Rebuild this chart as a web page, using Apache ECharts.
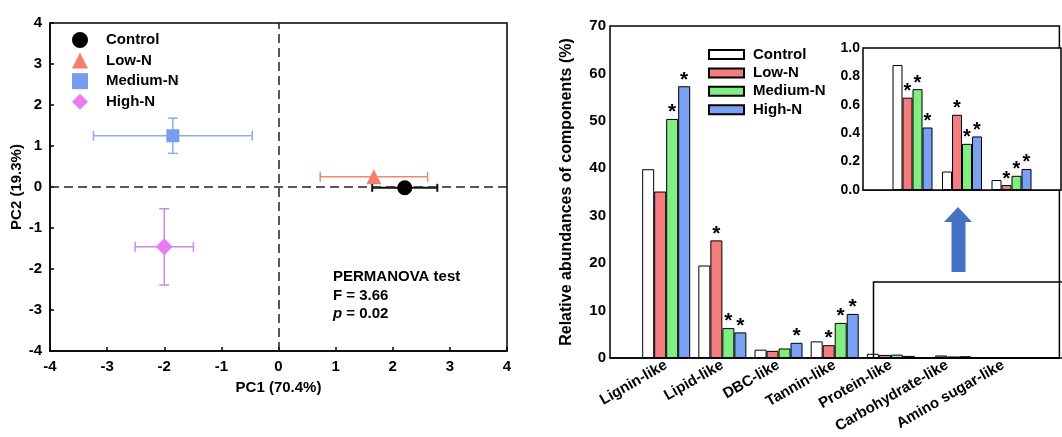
<!DOCTYPE html>
<html>
<head>
<meta charset="utf-8">
<script src="https://cdn.jsdelivr.net/npm/echarts@6/dist/echarts.min.js"></script>
<style>
html, body { margin: 0; padding: 0; background: #fff; }
#main { width: 1062px; height: 437px; }
</style>
</head>
<body>
<div id="main"></div>
<script>
// ---- left panel: PCA scores ----
var groups = ['Control', 'Low-N', 'Medium-N', 'High-N'];
var pc1 = [2.21, 1.67, -1.85, -2.0];
var pc2 = [-0.02, 0.25, 1.25, -1.46];
var pc1Err = [0.57, 0.94, 1.39, 0.51];
var pc2Err = [0, 0, 0.43, 0.93];

// ---- right panel: relative abundances (%) ----
var components = ['Lignin-like', 'Lipid-like', 'DBC-like', 'Tannin-like', 'Protein-like', 'Carbohydrate-like', 'Amino sugar-like'];
var ctrlVals = [39.8, 19.5, 1.75, 3.5, 0.88, 0.13, 0.07];
var lowVals = [35.1, 24.8, 1.5, 2.7, 0.65, 0.53, 0.035];
var medVals = [50.4, 6.3, 2.0, 7.4, 0.71, 0.325, 0.10];
var highVals = [57.3, 5.4, 3.2, 9.3, 0.44, 0.377, 0.148];
// 1 = marked with *
var ctrlSig = [0, 0, 0, 0, 0, 0, 0];
var lowSig = [0, 1, 0, 1, 1, 1, 1];
var medSig = [1, 1, 0, 1, 1, 1, 1];
var highSig = [1, 1, 1, 1, 1, 1, 1];
var nMain = 4; // first 4 components shown with stars on the main axis, rest in the inset

var markerSymbols = ['circle', 'triangle', 'rect', 'diamond'];
var markerSizes = [15, 15, 13, 17];
var markerColors = ['#000000', '#F37F6B', '#779CF0', '#EB7BF2'];
var errColors = ['#111111', '#EE8A66', '#8FAAEE', '#C98BE6'];
var barColors = ['#FFFFFF', '#F47C7C', '#80EE80', '#7AA2F2'];

var allVals = [ctrlVals, lowVals, medVals, highVals];
var allSig = [ctrlSig, lowSig, medSig, highSig];

var font = 'Liberation Sans, Arial, sans-serif';
var boldLabel = { color: '#000', fontWeight: 'bold', fontSize: 15, fontFamily: font };
var blackLine = { onZero: false, lineStyle: { color: '#000', width: 1.5 } };

var chart = echarts.init(document.getElementById('main'));

var series = [];

// error bars + zero lines
series.push({
    type: 'custom',
    name: 'err',
    xAxisIndex: 0,
    yAxisIndex: 0,
    z: 3,
    silent: true,
    encode: { x: 0, y: 1 },
    data: groups.map(function (g, i) { return [pc1[i], pc2[i], pc1Err[i], pc2Err[i]]; }),
    renderItem: function (params, api) {
        var x = api.value(0), y = api.value(1), ex = api.value(2), ey = api.value(3);
        var col = errColors[params.dataIndex];
        var lw = params.dataIndex === 0 ? 2 : 1.5;
        var cap = params.dataIndex === 0 ? 4 : 5;
        var st = { stroke: col, lineWidth: lw };
        var kids = [];
        if (ex > 0) {
            var l = api.coord([x - ex, y]), r = api.coord([x + ex, y]);
            kids.push({ type: 'line', shape: { x1: l[0], y1: l[1], x2: r[0], y2: r[1] }, style: st });
            kids.push({ type: 'line', shape: { x1: l[0], y1: l[1] - cap, x2: l[0], y2: l[1] + cap }, style: st });
            kids.push({ type: 'line', shape: { x1: r[0], y1: r[1] - cap, x2: r[0], y2: r[1] + cap }, style: st });
        }
        if (ey > 0) {
            var t = api.coord([x, y + ey]), b = api.coord([x, y - ey]);
            kids.push({ type: 'line', shape: { x1: t[0], y1: t[1], x2: b[0], y2: b[1] }, style: st });
            kids.push({ type: 'line', shape: { x1: t[0] - cap, y1: t[1], x2: t[0] + cap, y2: t[1] }, style: st });
            kids.push({ type: 'line', shape: { x1: b[0] - cap, y1: b[1], x2: b[0] + cap, y2: b[1] }, style: st });
        }
        return { type: 'group', children: kids };
    },
    markLine: {
        silent: true,
        symbol: 'none',
        label: { show: false },
        lineStyle: { color: '#222', type: [9, 5], width: 1.5 },
        data: [{ xAxis: 0 }, { yAxis: 0 }]
    }
});

groups.forEach(function (g, i) {
    series.push({
        type: 'scatter',
        name: g,
        xAxisIndex: 0,
        yAxisIndex: 0,
        z: 5,
        symbol: markerSymbols[i],
        symbolSize: markerSizes[i],
        itemStyle: { color: markerColors[i], opacity: 1 },
        data: [[pc1[i], pc2[i]]]
    });
});

// main bars
groups.forEach(function (g, i) {
    var vals = allVals[i], sig = allSig[i];
    series.push({
        type: 'bar',
        name: g + ' ',
        xAxisIndex: 1,
        yAxisIndex: 1,
        barWidth: 12,
        barGap: '0%',
        itemStyle: { color: barColors[i], borderColor: '#000', borderWidth: 1 },
        label: {
            show: true,
            position: 'top',
            distance: -4,
            color: '#000',
            fontSize: 21,
            fontWeight: 'bold',
            formatter: function (p) {
                var k = p.dataIndex - 1;
                return (k >= 0 && k < nMain && sig[k]) ? '*' : '';
            }
        },
        data: [null].concat(vals, [null])
    });
});

// inset bars
groups.forEach(function (g, i) {
    var vals = allVals[i].slice(nMain), sig = allSig[i].slice(nMain);
    series.push({
        type: 'bar',
        name: g + ' ',
        xAxisIndex: 2,
        yAxisIndex: 2,
        z: 4,
        barWidth: 10,
        barGap: '0%',
        itemStyle: { color: barColors[i], borderColor: '#000', borderWidth: 1 },
        label: {
            show: true,
            position: 'top',
            distance: -4,
            color: '#000',
            fontSize: 20,
            fontWeight: 'bold',
            formatter: function (p) {
                var k = p.dataIndex - 1;
                return (k >= 0 && sig[k]) ? '*' : '';
            }
        },
        data: [null].concat(vals, [null])
    });
});

var option = {
    animation: false,
    backgroundColor: '#fff',
    textStyle: { fontFamily: font },
    grid: [
        { left: 50, top: 23, width: 457, height: 328, show: true, borderColor: '#000', borderWidth: 1.5 },
        { left: 610, top: 26, right: -7, height: 332, show: true, borderColor: '#000', borderWidth: 1.5 },
        { left: 863, top: 48, right: 1, height: 142, show: true, borderColor: '#000', borderWidth: 1.5, backgroundColor: '#fff', z: 3 }
    ],
    legend: [
        {
            data: groups,
            orient: 'vertical',
            left: 72,
            top: 32,
            padding: 0,
            itemWidth: 16,
            itemHeight: 16,
            itemGap: 4.6,
            selectedMode: false,
            textStyle: { color: '#000', fontWeight: 'bold', fontSize: 15, padding: [0, 0, 0, 13] }
        },
        {
            data: groups.map(function (g) { return g + ' '; }),
            orient: 'vertical',
            left: 708,
            top: 47,
            padding: 0,
            icon: 'rect',
            itemWidth: 35,
            itemHeight: 9,
            itemGap: 3.4,
            selectedMode: false,
            formatter: function (n) { return n.trim(); },
            textStyle: { color: '#000', fontWeight: 'bold', fontSize: 15, lineHeight: 15, padding: [0, 0, 0, 4] }
        }
    ],
    xAxis: [
        {
            gridIndex: 0, type: 'value', min: -4, max: 4, interval: 1,
            axisLine: blackLine,
            axisTick: { inside: true, length: 4, lineStyle: { color: '#000', width: 1.5 } },
            axisLabel: Object.assign({ margin: 8 }, boldLabel),
            splitLine: { show: false },
            name: 'PC1 (70.4%)', nameLocation: 'middle', nameGap: 29, nameTextStyle: boldLabel
        },
        {
            gridIndex: 1, type: 'category', boundaryGap: false,
            data: [''].concat(components, ['']),
            axisLine: blackLine,
            axisTick: { show: false },
            axisLabel: Object.assign({ rotate: 30, interval: 0, margin: 6 }, boldLabel),
            splitLine: { show: false }
        },
        {
            gridIndex: 2, type: 'category', boundaryGap: false,
            data: [''].concat(components.slice(nMain), ['']),
            axisLine: blackLine,
            axisTick: { show: false },
            axisLabel: { show: false },
            splitLine: { show: false }
        }
    ],
    yAxis: [
        {
            gridIndex: 0, type: 'value', min: -4, max: 4, interval: 1,
            axisLine: blackLine,
            axisTick: { inside: true, length: 4, lineStyle: { color: '#000', width: 1.5 } },
            axisLabel: Object.assign({ margin: 8 }, boldLabel),
            splitLine: { show: false },
            name: 'PC2 (19.3%)', nameLocation: 'middle', nameGap: 18, nameTextStyle: boldLabel
        },
        {
            gridIndex: 1, type: 'value', min: 0, max: 70, interval: 10,
            axisLine: blackLine,
            axisTick: { length: 6, lineStyle: { color: '#000', width: 1.5 } },
            axisLabel: Object.assign({ margin: 4 }, boldLabel),
            splitLine: { show: false },
            name: 'Relative abundances of components (%)', nameLocation: 'middle', nameGap: 35,
            nameTextStyle: { color: '#000', fontWeight: 'bold', fontSize: 16 }
        },
        {
            gridIndex: 2, type: 'value', min: 0, max: 1, interval: 0.2,
            axisLine: blackLine,
            axisTick: { length: 3, lineStyle: { color: '#000', width: 1.5 } },
            axisLabel: { color: '#000', fontWeight: 'bold', fontSize: 14, margin: 3, formatter: function (v) { return v.toFixed(1); } },
            splitLine: { show: false }
        }
    ],
    graphic: [
        { type: 'text', left: 333, top: 269, style: { text: 'PERMANOVA test', font: 'bold 15px ' + font, fill: '#000' } },
        { type: 'text', left: 333, top: 288, style: { text: 'F = 3.66', font: 'bold 15px ' + font, fill: '#000' } },
        {
            type: 'text', left: 333, top: 306,
            style: {
                text: '{i|p}{a| = 0.02}',
                rich: {
                    i: { font: 'italic bold 15px ' + font, fill: '#000' },
                    a: { font: 'bold 15px ' + font, fill: '#000' }
                }
            }
        },
        // zoom window around the small components
        { type: 'rect', z: 10, shape: { x: 873.5, y: 282, width: 200, height: 76 }, style: { fill: 'none', stroke: '#000', lineWidth: 1.5 } },
        // arrow pointing to the inset
        {
            type: 'polygon', z: 10,
            shape: { points: [[951.5, 272], [965.5, 272], [965.5, 222], [972, 222], [958, 207], [944, 222], [951.5, 222]] },
            style: { fill: '#4472C4' }
        }
    ],
    series: series
};

chart.setOption(option);
</script>
</body>
</html>
